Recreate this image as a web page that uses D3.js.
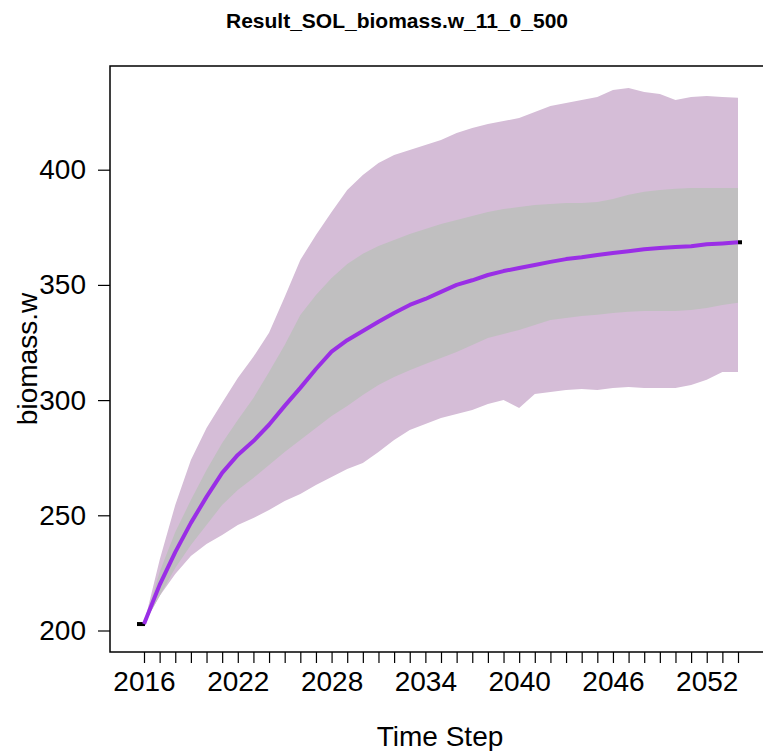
<!DOCTYPE html>
<html>
<head>
<meta charset="utf-8">
<script src="https://cdn.jsdelivr.net/npm/d3@7"></script>
<style>
  html, body { margin: 0; padding: 0; background: #ffffff; }
  svg { display: block; }
  text { font-family: "Liberation Sans", Arial, sans-serif; fill: #000; }
</style>
</head>
<body>
<div id="chart"></div>
<script>
// Simulated biomass.w trajectories summarised per time step
const years = d3.range(2016, 2055);

const meanValues = [
  202.8, 219.8, 234.0, 246.7, 258.0, 268.4, 276.2, 282.2, 289.3, 297.5,
  305.3, 313.5, 321.0, 326.0, 330.0, 334.0, 337.8, 341.3, 343.9, 347.0,
  350.0, 352.0, 354.3, 356.0, 357.3, 358.6, 360.0, 361.2, 362.0, 363.0,
  363.8, 364.6, 365.5, 366.0, 366.4, 366.8, 367.6, 368.0, 368.5
];

// inner band (interquartile range)
const innerUpper = [
  202.8, 225.4, 242.8, 256.6, 269.7, 281.4, 291.4, 300.9, 312.2, 323.9,
  336.9, 345.6, 353.0, 359.1, 363.5, 366.9, 369.5, 372.1, 374.3, 376.4,
  378.2, 379.9, 381.6, 382.9, 383.8, 384.7, 385.1, 385.6, 385.6, 386.0,
  387.3, 389.1, 390.4, 391.2, 391.7, 392.1, 392.1, 392.1, 392.1
];
const innerLower = [
  202.8, 215.0, 227.1, 237.1, 245.8, 254.5, 261.0, 266.2, 271.8, 277.5,
  282.7, 287.9, 293.1, 297.4, 302.2, 306.5, 310.0, 313.0, 315.7, 318.3,
  320.9, 323.9, 327.0, 328.7, 330.4, 332.6, 334.8, 335.6, 336.5, 337.0,
  337.8, 338.3, 338.7, 338.7, 338.7, 339.1, 340.0, 341.3, 342.2
];

// outer band (full spread of runs)
const outerUpper = [
  202.8, 230.6, 254.5, 274.0, 287.9, 298.8, 309.6, 318.8, 329.2, 344.8,
  360.8, 371.7, 381.6, 391.2, 397.7, 402.9, 406.4, 408.6, 410.7, 412.9,
  415.9, 418.1, 419.8, 421.1, 422.4, 425.0, 427.6, 429.0, 430.3, 431.6,
  434.6, 435.5, 433.7, 432.9, 430.3, 431.6, 432.0, 431.6, 431.2
];
const outerLower = [
  202.8, 215.0, 224.5, 232.3, 237.5, 241.4, 245.8, 248.8, 252.3, 256.2,
  259.2, 263.2, 266.6, 270.1, 272.7, 277.5, 282.7, 287.0, 289.6, 292.2,
  294.0, 295.7, 298.3, 300.0, 296.6, 302.6, 303.5, 304.4, 304.8, 304.4,
  305.3, 305.7, 305.3, 305.3, 305.3, 306.6, 308.8, 312.2, 312.2
];

const yTicks = [200, 250, 300, 350, 400];
const xLabelYears = [2016, 2022, 2028, 2034, 2040, 2046, 2052];

const titleText = "Result_SOL_biomass.w_11_0_500";
const xTitle = "Time Step";
const yTitle = "biomass.w";

const W = 763, H = 751;
const box = { left: 110, top: 66, right: 771, bottom: 652 };

const svg = d3.select("#chart").append("svg")
  .attr("width", W).attr("height", H);

const x = d3.scaleLinear().domain([2016, 2054]).range([144, 738]);
const y = d3.scaleLinear().domain([200, 400]).range([630.5, 169.7]);

const rows = years.map((yr, i) => ({
  year: yr, mean: meanValues[i],
  iu: innerUpper[i], il: innerLower[i],
  ou: outerUpper[i], ol: outerLower[i]
}));

const outerArea = d3.area().x(d => x(d.year)).y0(d => y(d.ol)).y1(d => y(d.ou));
const innerArea = d3.area().x(d => x(d.year)).y0(d => y(d.il)).y1(d => y(d.iu));
const meanLine = d3.line().x(d => x(d.year)).y(d => y(d.mean));

svg.append("path").datum(rows).attr("d", outerArea).attr("fill", "#d5bdd7");
svg.append("path").datum(rows).attr("d", innerArea).attr("fill", "#c0bfc0");

// black end markers of the run
const ends = [rows[0], rows[rows.length - 1]];
svg.selectAll("line.end").data(ends).join("line")
  .attr("class", "end")
  .attr("x1", (d, i) => x(d.year) + (i === 0 ? -7 : 0))
  .attr("x2", (d, i) => x(d.year) + (i === 0 ? 1 : 4))
  .attr("y1", d => y(d.mean)).attr("y2", d => y(d.mean))
  .attr("stroke", "#000").attr("stroke-width", 4);

svg.append("path").datum(rows).attr("d", meanLine)
  .attr("fill", "none").attr("stroke", "#9a2ee6")
  .attr("stroke-width", 4).attr("stroke-linejoin", "round");

// plot frame
svg.append("rect")
  .attr("x", box.left).attr("y", box.top)
  .attr("width", box.right - box.left).attr("height", box.bottom - box.top)
  .attr("fill", "none").attr("stroke", "#000").attr("stroke-width", 1.5);

// x axis
const xAxis = d3.axisBottom(x).tickValues(years).tickSize(11).tickPadding(8)
  .tickFormat(d => xLabelYears.includes(d) ? String(d) : "");
const gx = svg.append("g").attr("transform", `translate(0,${box.bottom})`).call(xAxis);
gx.select(".domain").remove();
gx.selectAll(".tick line").attr("stroke", "#000").attr("stroke-width", 1.2);
gx.selectAll(".tick text").attr("font-size", 28).attr("dy", "0.71em");

// y axis
const yAxis = d3.axisLeft(y).tickValues(yTicks).tickSize(12).tickPadding(12);
const gy = svg.append("g").attr("transform", `translate(${box.left},0)`).call(yAxis);
gy.select(".domain").remove();
gy.selectAll(".tick line").attr("stroke", "#000").attr("stroke-width", 1.2);
gy.selectAll(".tick text").attr("font-size", 28);

// titles
svg.append("text").attr("x", 397).attr("y", 28)
  .attr("text-anchor", "middle").attr("font-size", 21).attr("font-weight", "bold")
  .text(titleText);

svg.append("text").attr("x", 440).attr("y", 746)
  .attr("text-anchor", "middle").attr("font-size", 28)
  .text(xTitle);

svg.append("text")
  .attr("transform", "translate(37,359) rotate(-90)")
  .attr("text-anchor", "middle").attr("font-size", 28)
  .text(yTitle);
</script>
</body>
</html>
